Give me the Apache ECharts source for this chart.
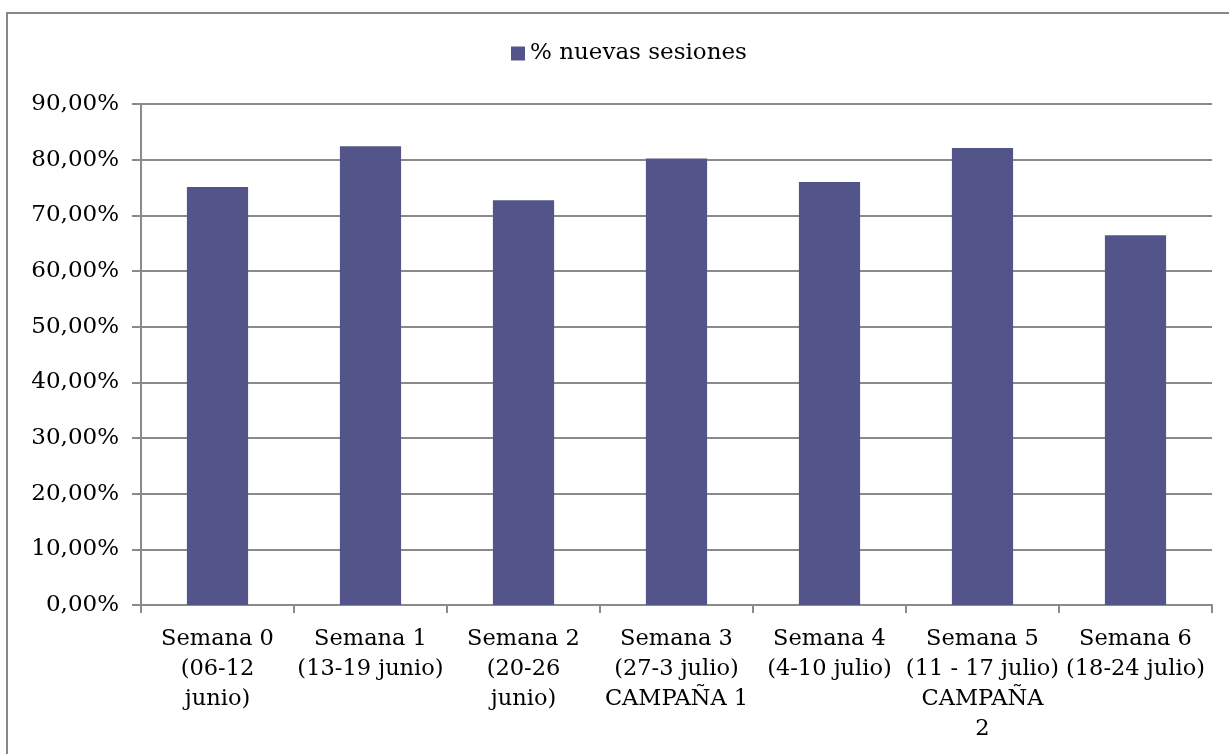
<!DOCTYPE html>
<html>
<head>
<meta charset="utf-8">
<script src="https://cdn.jsdelivr.net/npm/echarts@6/dist/echarts.min.js"></script>
<style>html,body{margin:0;padding:0;background:#fff}#c{width:1229px;height:754px}</style>
</head>
<body>
<div id="c"></div>
<script>
var categories = [
  "Semana 0\n(06-12\njunio)",
  "Semana 1\n(13-19 junio)",
  "Semana 2\n(20-26\njunio)",
  "Semana 3\n(27-3 julio)\nCAMPAÑA 1",
  "Semana 4\n(4-10 julio)",
  "Semana 5\n(11 - 17 julio)\nCAMPAÑA\n2",
  "Semana 6\n(18-24 julio)"
];
var seriesName = "% nuevas sesiones";
var values = [75.1, 82.4, 72.7, 80.2, 76.0, 82.1, 66.4];
var yTicks = { min: 0, max: 90, interval: 10 };

var FONT = '"DejaVu Serif", serif';
var chart = echarts.init(document.getElementById('c'), null, { renderer: 'canvas' });
chart.setOption({
  animation: false,
  backgroundColor: '#ffffff',
  graphic: [{
    type: 'rect',
    shape: { x: 7, y: 13, width: 1260, height: 780 },
    style: { fill: 'none', stroke: '#878787', lineWidth: 2 },
    silent: true
  }],
  legend: {
    top: 42,
    left: 511,
    padding: 0,
    itemWidth: 14,
    itemHeight: 14,
    itemGap: 5,
    icon: 'rect',
    textStyle: { fontFamily: FONT, fontSize: 23, color: '#000' },
    data: [seriesName]
  },
  grid: { left: 141, right: 17, top: 104, bottom: 149, containLabel: false },
  xAxis: {
    type: 'category',
    data: categories,
    axisLine: { lineStyle: { color: '#8a8a8a', width: 2 } },
    axisTick: { show: true, length: 8, alignWithLabel: false, lineStyle: { color: '#8a8a8a', width: 2 } },
    axisLabel: {
      interval: 0,
      margin: 19,
      fontFamily: FONT,
      fontSize: 22.5,
      color: '#000',
      lineHeight: 30,
      align: 'center'
    }
  },
  yAxis: {
    type: 'value',
    min: yTicks.min,
    max: yTicks.max,
    interval: yTicks.interval,
    axisLine: { show: true, lineStyle: { color: '#8a8a8a', width: 2 } },
    axisTick: { show: true, length: 9, lineStyle: { color: '#8a8a8a', width: 2 } },
    splitLine: { lineStyle: { color: '#8a8a8a', width: 2 } },
    axisLabel: {
      margin: 22,
      fontFamily: FONT,
      fontSize: 23,
      color: '#000',
      formatter: function (v) { return v.toFixed(2).replace('.', ',') + '%'; }
    }
  },
  series: [{
    name: seriesName,
    type: 'bar',
    data: values,
    barCategoryGap: '60%',
    itemStyle: { color: '#53548A' }
  }]
});
</script>
</body>
</html>
